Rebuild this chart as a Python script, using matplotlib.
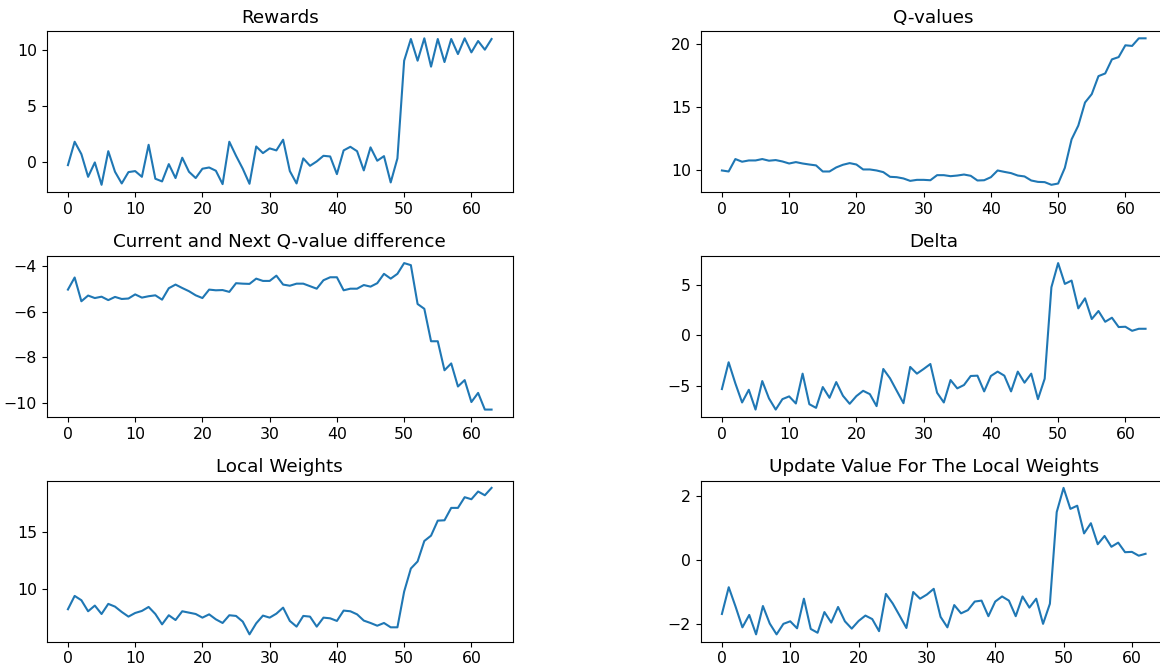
import numpy as np
import matplotlib
matplotlib.use("Agg")
import matplotlib.pyplot as plt

# values
rewards = [-0.24, 1.84, 0.74, -1.28, 0.0, -1.99, 1.0, -0.83, -1.87, -0.86,
           -0.77, -1.28, 1.57, -1.45, -1.69, -0.15, -1.39, 0.42, -0.83, -1.39,
           -0.56, -0.45, -0.74, -1.93, 1.84, 0.59, -0.56, -1.9, 1.42, 0.83,
           1.25, 1.07, 2.02, -0.77, -1.87, 0.36, -0.3, 0.09, 0.59, 0.53,
           -1.04, 1.07, 1.39, 1.0, -0.71, 1.34, 0.15, 0.56, -1.78, 0.36,
           9.05, 10.98, 9.05, 11.04, 8.52, 10.98, 8.93, 10.98, 9.64, 11.04,
           9.79, 10.8, 10.03, 10.98]

q_values = [10.0, 9.92, 10.9, 10.69, 10.79, 10.79, 10.9, 10.77, 10.82, 10.71,
            10.55, 10.66, 10.55, 10.47, 10.4, 9.92, 9.92, 10.24, 10.45, 10.58,
            10.47, 10.08, 10.08, 10.0, 9.87, 9.5, 9.47, 9.37, 9.18, 9.26,
            9.26, 9.23, 9.63, 9.63, 9.55, 9.6, 9.68, 9.58, 9.21, 9.23,
            9.47, 10.0, 9.89, 9.79, 9.6, 9.53, 9.21, 9.1, 9.08, 8.87,
            8.97, 10.21, 12.45, 13.54, 15.36, 16.02, 17.44, 17.65, 18.76, 18.94,
            19.87, 19.82, 20.42, 20.42]

q_diff = [-5.04, -4.51, -5.55, -5.3, -5.41, -5.35, -5.5, -5.36, -5.45, -5.43,
          -5.25, -5.39, -5.33, -5.29, -5.48, -4.98, -4.82, -4.97, -5.11, -5.29,
          -5.41, -5.04, -5.07, -5.06, -5.14, -4.76, -4.78, -4.79, -4.56, -4.66,
          -4.66, -4.43, -4.82, -4.87, -4.78, -4.78, -4.89, -5.0, -4.63, -4.5,
          -4.5, -5.07, -5.0, -5.0, -4.84, -4.91, -4.76, -4.35, -4.56, -4.35,
          -3.88, -3.97, -5.67, -5.88, -7.3, -7.3, -8.57, -8.27, -9.28, -9.0,
          -9.96, -9.56, -10.29, -10.29]

delta = [-5.28, -2.64, -4.72, -6.6, -5.35, -7.3, -4.49, -6.2, -7.3, -6.27,
         -6.0, -6.7, -3.76, -6.77, -7.13, -5.08, -6.14, -4.59, -5.94, -6.73,
         -5.97, -5.45, -5.78, -6.96, -3.3, -4.22, -5.45, -6.67, -3.1, -3.76,
         -3.3, -2.81, -5.64, -6.6, -4.39, -5.21, -4.88, -3.99, -3.96, -5.51,
         -3.99, -3.56, -3.96, -5.51, -3.56, -4.65, -3.76, -6.27, -4.26, 4.75,
         7.13, 5.08, 5.41, 2.67, 3.66, 1.62, 2.41, 1.35, 1.75, 0.83,
         0.86, 0.46, 0.66, 0.66]

local_weights = [8.24, 9.41, 9.03, 8.06, 8.56, 7.82, 8.71, 8.47, 8.0, 7.59,
                 7.91, 8.09, 8.44, 7.82, 6.91, 7.71, 7.29, 8.06, 7.94, 7.82,
                 7.5, 7.79, 7.35, 7.03, 7.71, 7.65, 7.15, 6.03, 7.0, 7.68,
                 7.5, 7.85, 8.38, 7.21, 6.71, 7.65, 7.59, 6.71, 7.5, 7.44,
                 7.21, 8.12, 8.06, 7.79, 7.24, 7.03, 6.79, 7.03, 6.65, 6.65,
                 9.79, 11.82, 12.44, 14.24, 14.71, 16.03, 16.06, 17.15, 17.15, 18.09,
                 17.91, 18.59, 18.26, 18.91]

weight_update = [-1.69, -0.85, -1.46, -2.11, -1.72, -2.33, -1.44, -1.99, -2.33, -2.0,
                 -1.92, -2.14, -1.21, -2.16, -2.28, -1.63, -1.96, -1.47, -1.92, -2.15,
                 -1.91, -1.74, -1.85, -2.23, -1.06, -1.36, -1.74, -2.13, -1.0, -1.21,
                 -1.08, -0.9, -1.78, -2.11, -1.41, -1.67, -1.57, -1.3, -1.27, -1.76,
                 -1.3, -1.14, -1.27, -1.76, -1.14, -1.49, -1.21, -2.0, -1.37, 1.51,
                 2.27, 1.61, 1.71, 0.84, 1.16, 0.5, 0.76, 0.42, 0.55, 0.25,
                 0.26, 0.14, 0.2]

titles = ["Rewards", "Q-values", "Current and Next Q-value difference", "Delta",
          "Local Weights", "Update Value For The Local Weights"]
series = [rewards, q_values, q_diff, delta, local_weights, weight_update]

plt.rcParams['font.size'] = 11.3

fig, axs = plt.subplots(3, 2, figsize=(11.6, 6.68), dpi=100)
# the reference is cut off at the right edge, so the right column runs past it
fig.subplots_adjust(left=0.0403, right=1.0058, bottom=0.0394, top=0.9536,
                    wspace=0.4034, hspace=0.395)

for ax, title, ys in zip(axs.flat, titles, series):
    ax.plot(np.arange(len(ys)), ys)
    ax.set_title(title, fontsize=13.2)

fig.savefig("out.png")
